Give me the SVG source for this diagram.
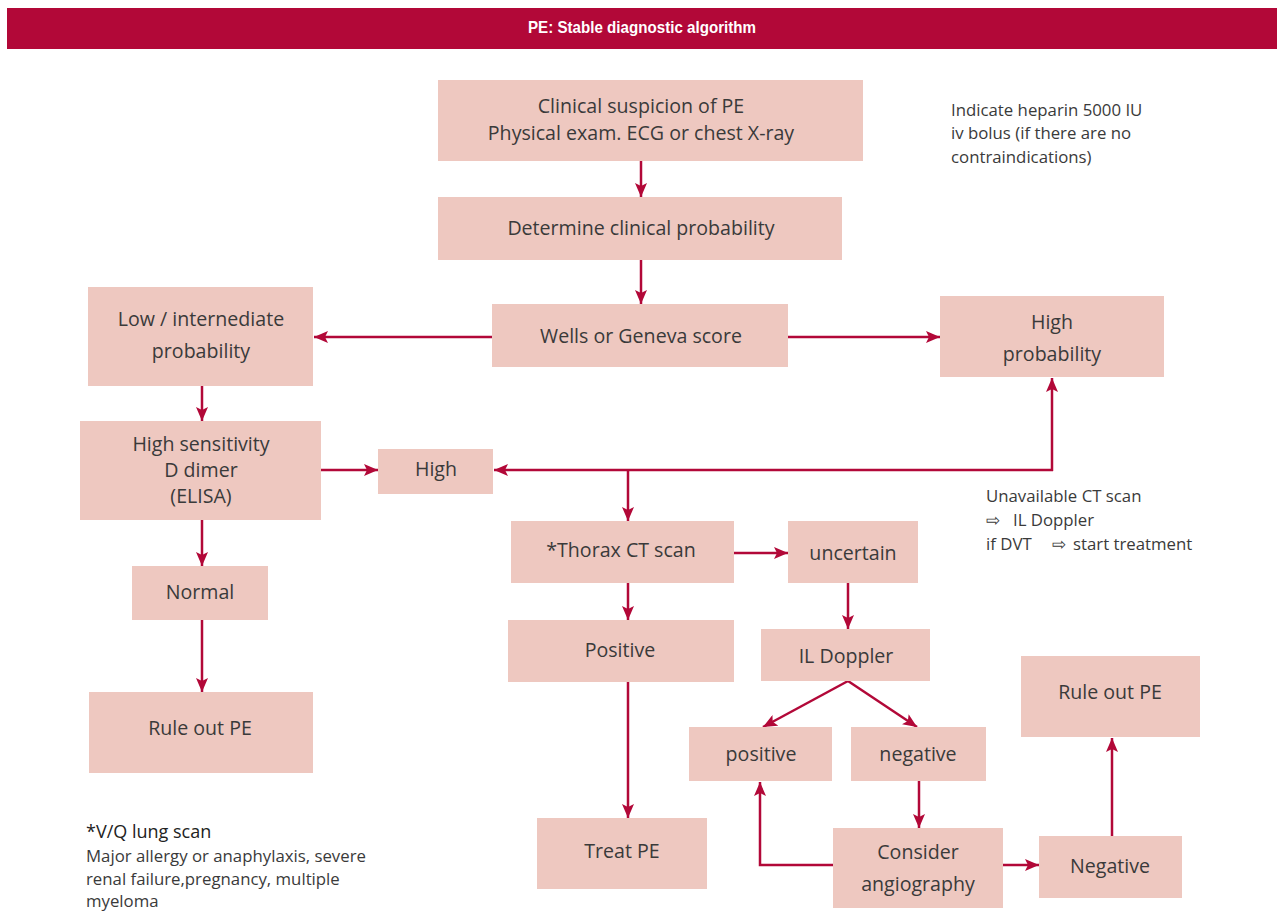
<svg xmlns="http://www.w3.org/2000/svg" width="1277" height="912" viewBox="0 0 1277 912">
<style>
.box{fill:#EEC8C0}
.t{font-family:"Open Sans","Noto Sans","Liberation Sans",sans-serif;font-size:19.6px;fill:#3a3a3a;text-anchor:middle}
.n{font-family:"Open Sans","Noto Sans","Liberation Sans",sans-serif;font-size:16.8px;fill:#3a3a3a}
.nh{font-family:"Open Sans","Noto Sans","Liberation Sans",sans-serif;font-size:18px;fill:#222222}
.c{fill:none;stroke:#B20838;stroke-width:2.5}
</style>
<defs>
<marker id="ah" viewBox="0 0 14 12" refX="14" refY="6" markerWidth="14" markerHeight="12" markerUnits="userSpaceOnUse" orient="auto">
<path d="M0,0 L14,6 L0,12 L3,6 Z" fill="#B20838"/>
</marker>
</defs>
<rect width="1277" height="912" fill="#ffffff"/>
<g id="header">
<rect x="7" y="8" width="1270" height="41" fill="#B20838"/>
<text x="642" y="33" font-family="Liberation Sans, sans-serif" font-weight="bold" font-size="17" fill="#ffffff" text-anchor="middle" textLength="228" lengthAdjust="spacingAndGlyphs">PE: Stable diagnostic algorithm</text>
</g>
<g id="connectors">
<line class="c" x1="641" y1="161" x2="641" y2="197" marker-end="url(#ah)"/>
<line class="c" x1="641" y1="260" x2="641" y2="304" marker-end="url(#ah)"/>
<line class="c" x1="492" y1="337" x2="314" y2="337" marker-end="url(#ah)"/>
<line class="c" x1="788" y1="337" x2="940" y2="337" marker-end="url(#ah)"/>
<line class="c" x1="202" y1="386" x2="202" y2="421" marker-end="url(#ah)"/>
<line class="c" x1="321" y1="470" x2="378" y2="470" marker-end="url(#ah)"/>
<line class="c" x1="1052" y1="471" x2="1052" y2="378" marker-end="url(#ah)"/>
<line class="c" x1="1053" y1="470" x2="494" y2="470" marker-end="url(#ah)"/>
<line class="c" x1="628" y1="470" x2="628" y2="521" marker-end="url(#ah)"/>
<line class="c" x1="734" y1="553" x2="788" y2="553" marker-end="url(#ah)"/>
<line class="c" x1="628" y1="583" x2="628" y2="620" marker-end="url(#ah)"/>
<line class="c" x1="202" y1="520" x2="202" y2="566" marker-end="url(#ah)"/>
<line class="c" x1="202" y1="620" x2="202" y2="692" marker-end="url(#ah)"/>
<line class="c" x1="848" y1="583" x2="848" y2="629" marker-end="url(#ah)"/>
<line class="c" x1="628" y1="682" x2="628" y2="818" marker-end="url(#ah)"/>
<line class="c" x1="848" y1="681" x2="763" y2="727" marker-end="url(#ah)"/>
<line class="c" x1="848" y1="681" x2="917" y2="727" marker-end="url(#ah)"/>
<line class="c" x1="919" y1="781" x2="919" y2="828" marker-end="url(#ah)"/>
<polyline class="c" points="833,865 760,865 760,782" marker-end="url(#ah)"/>
<line class="c" x1="1003" y1="865" x2="1039" y2="865" marker-end="url(#ah)"/>
<line class="c" x1="1112" y1="836" x2="1112" y2="738" marker-end="url(#ah)"/>
</g>
<g id="clinical-suspicion"><rect class="box" x="438" y="80" width="425" height="81"/><text class="t" x="641" y="113">Clinical suspicion of PE</text><text class="t" x="641" y="140">Physical exam. ECG or chest X-ray</text></g>
<g id="determine-probability"><rect class="box" x="438" y="197" width="404" height="63"/><text class="t" x="641" y="235">Determine clinical probability</text></g>
<g id="wells-geneva"><rect class="box" x="492" y="304" width="296" height="63"/><text class="t" x="641" y="343">Wells or Geneva score</text></g>
<g id="low-intermediate"><rect class="box" x="88" y="287" width="225" height="99"/><text class="t" x="201" y="326">Low / internediate</text><text class="t" x="201" y="358">probability</text></g>
<g id="high-probability"><rect class="box" x="940" y="296" width="224" height="81"/><text class="t" x="1052" y="329">High</text><text class="t" x="1052" y="361">probability</text></g>
<g id="d-dimer"><rect class="box" x="80" y="421" width="241" height="99"/><text class="t" x="201" y="451">High sensitivity</text><text class="t" x="201" y="477">D dimer</text><text class="t" x="201" y="503">(ELISA)</text></g>
<g id="high"><rect class="box" x="378" y="449" width="115" height="45"/><text class="t" x="436" y="476">High</text></g>
<g id="thorax-ct"><rect class="box" x="511" y="521" width="223" height="62"/><text class="t" x="621" y="557">*Thorax CT scan</text></g>
<g id="uncertain"><rect class="box" x="788" y="521" width="130" height="62"/><text class="t" x="853" y="560">uncertain</text></g>
<g id="normal"><rect class="box" x="132" y="566" width="136" height="54"/><text class="t" x="200" y="599">Normal</text></g>
<g id="positive-ct"><rect class="box" x="508" y="620" width="226" height="62"/><text class="t" x="620" y="657">Positive</text></g>
<g id="il-doppler"><rect class="box" x="761" y="629" width="169" height="52"/><text class="t" x="846" y="663">IL Doppler</text></g>
<g id="rule-out-left"><rect class="box" x="89" y="692" width="224" height="81"/><text class="t" x="200" y="735">Rule out PE</text></g>
<g id="positive-doppler"><rect class="box" x="689" y="727" width="143" height="54"/><text class="t" x="761" y="761">positive</text></g>
<g id="negative-doppler"><rect class="box" x="851" y="727" width="135" height="54"/><text class="t" x="918" y="761">negative</text></g>
<g id="treat-pe"><rect class="box" x="537" y="818" width="170" height="71"/><text class="t" x="622" y="858">Treat PE</text></g>
<g id="consider-angiography"><rect class="box" x="833" y="828" width="170" height="80"/><text class="t" x="918" y="859">Consider</text><text class="t" x="918" y="891">angiography</text></g>
<g id="negative-angio"><rect class="box" x="1039" y="836" width="143" height="62"/><text class="t" x="1110" y="873">Negative</text></g>
<g id="rule-out-right"><rect class="box" x="1021" y="656" width="179" height="81"/><text class="t" x="1110" y="699">Rule out PE</text></g>
<g id="notes">
<text class="n" x="951" y="116">Indicate heparin 5000 IU</text>
<text class="n" x="951" y="139">iv bolus (if there are no</text>
<text class="n" x="951" y="163">contraindications)</text>
<text class="n" x="986" y="502">Unavailable CT scan</text>
<text class="n" y="526"><tspan x="986">⇨</tspan><tspan x="1013">IL Doppler</tspan></text>
<text class="n" y="550"><tspan x="986">if DVT</tspan><tspan x="1052">⇨</tspan><tspan x="1073">start treatment</tspan></text>
<text class="nh" x="86" y="838">*V/Q lung scan</text>
<text class="n" x="86" y="862">Major allergy or anaphylaxis, severe</text>
<text class="n" x="86" y="885">renal failure,pregnancy, multiple</text>
<text class="n" x="86" y="907">myeloma</text>
</g>
</svg>
